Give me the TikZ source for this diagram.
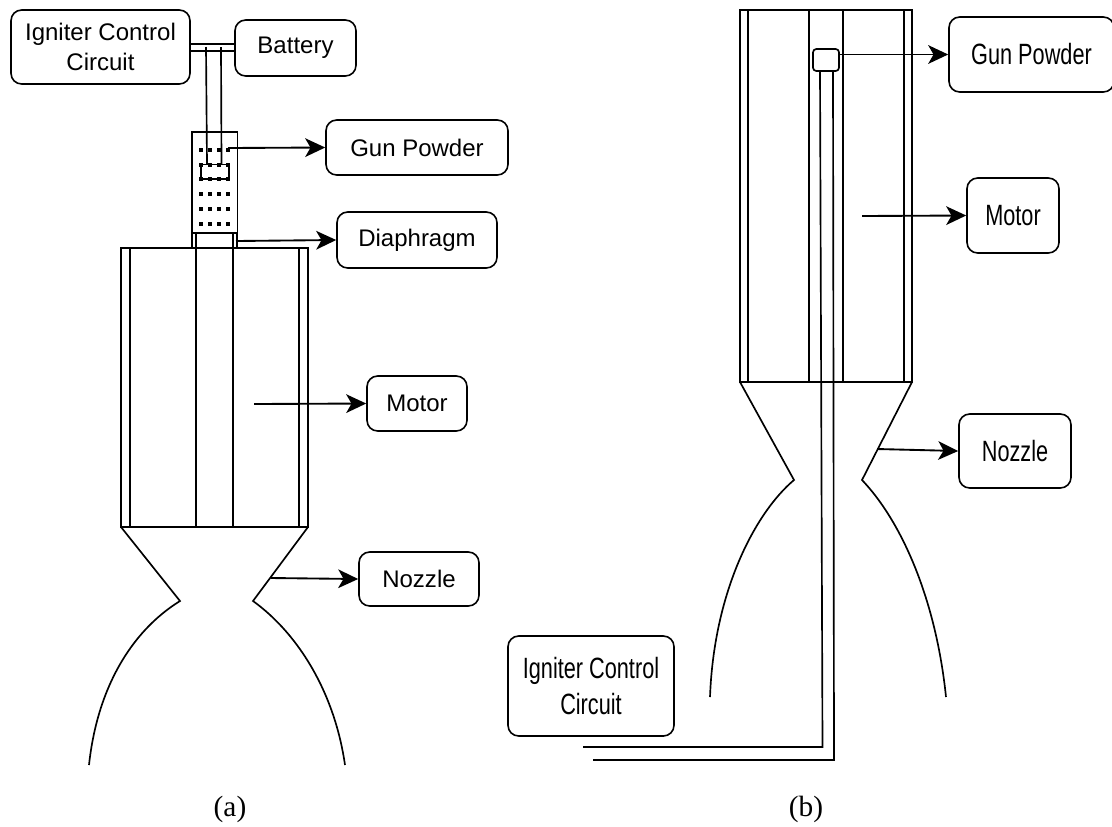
\documentclass[tikz,border=0pt]{standalone}
\usepackage{fontspec}
\setmainfont{Liberation Serif}
\newfontfamily\labelfont{Liberation Sans}
\usetikzlibrary{arrows.meta}
\tikzset{
  label box/.style={draw, line width=1.2pt, rounded corners=8pt, inner sep=0pt, align=center, font=\labelfont\fontsize{18}{22}\selectfont},
  tall box/.style={label box, font=\labelfont\fontsize{22}{27.5}\selectfont},
  wire line/.style={line width=1.25pt},
  body line/.style={line width=1.25pt},
  pointer line/.style={line width=1.4pt, -{Stealth[length=15pt, width=14pt, inset=4pt]}},
  caption text/.style={font=\fontsize{22}{26}\selectfont},
}
\newcommand{\narrowText}[1]{\scalebox{0.74}[1]{#1}}
\begin{document}
\begin{tikzpicture}[x=0.75pt, y=-0.75pt]
  \useasboundingbox (0,0) rectangle (1112,826);
  % left figure
  \node[label box, minimum width=134.25pt, minimum height=55.5pt] (igniterA) at (100.5,47) {Igniter Control\\Circuit};
  \node[label box, minimum width=90.75pt, minimum height=42pt] (batteryA) at (295.5,48) {Battery};
  \node[label box, minimum width=136.5pt, minimum height=41.25pt] (gunA) at (417,147.5) {Gun Powder};
  \node[label box, minimum width=120pt, minimum height=42pt] (diaphragmA) at (417,240) {Diaphragm};
  \node[label box, minimum width=75pt, minimum height=41.25pt] (motorA) at (417,403.5) {Motor};
  \node[label box, minimum width=90pt, minimum height=40.5pt] (nozzleA) at (419,579) {Nozzle};
  \draw[wire line] (190,44) -- (235,44) (190,51) -- (235,51);
  \draw[wire line] (206,47) -- (207,164) (221,47) -- (221.5,164);
  \draw[body line] (192,233) -- (192,132) -- (237.5,132) -- (237.5,233) -- cycle;
  \foreach \row in {150,164.5,179.3,194.3,209.3,224.3}
    \foreach \col in {201,210,219,228}
      \fill (\col,\row) ++(-2,-2) rectangle ++(4,4);
  \draw[body line] (201,164.5) rectangle (229,179.3);
  \draw[body line] (192,233) -- (192,248) (237,233) -- (237,248);
  \draw[body line] (121,527) -- (121,248) -- (308,248) -- (308,527) -- cycle;
  \draw[body line] (130,248) -- (130,527) (299,248) -- (299,527);
  \draw[body line] (196,233) -- (196,527) (233,233) -- (233,527);
  \draw[body line] (89,765) .. controls (97,690) and (130,632) .. (180,601) -- (121,527);
  \draw[body line] (345,765) .. controls (335,695) and (300,635) .. (253,601) -- (308,527);
  \coordinate (gunTailA) at (228,148);
  \coordinate (diaphragmTailA) at (236,241);
  \coordinate (motorTailA) at (254,404);
  \coordinate (nozzleTailA) at (271,578);
  \draw[pointer line] (gunTailA) -- (gunA.west);
  \draw[pointer line] (diaphragmTailA) -- (diaphragmA.west);
  \draw[pointer line] (motorTailA) -- (motorA.west);
  \draw[pointer line] (nozzleTailA) -- (nozzleA.west);
  \node[caption text] (captionA) at (230,809) {(a)};
  % right figure
  \draw[body line] (740,10) rectangle (912,382);
  \draw[body line] (748,10) -- (748,382) (904,10) -- (904,382);
  \draw[body line] (809,10) -- (809,382) (843,10) -- (843,382);
  \node[draw, line width=1.25pt, fill=white, rounded corners=2.5pt, minimum width=19.5pt, minimum height=16.5pt, inner sep=0pt] (gunCapB) at (826,60) {};
  \node[tall box, minimum width=123.75pt, minimum height=56.25pt] (gunB) at (1031.5,54.5) {\narrowText{Gun Powder}};
  \node[tall box, minimum width=69pt, minimum height=56.25pt] (motorB) at (1013,215.5) {\narrowText{Motor}};
  \node[tall box, minimum width=84pt, minimum height=55.5pt] (nozzleB) at (1015,451) {\narrowText{Nozzle}};
  \node[tall box, minimum width=124.5pt, minimum height=75pt] (igniterB) at (591,686) {\narrowText{Igniter Control}\\\narrowText{Circuit}};
  \draw[body line] (740,382) -- (794,480) .. controls (756,512) and (714,590) .. (710,697);
  \draw[body line] (912,382) -- (862,480) .. controls (902,522) and (936,600) .. (946,697);
  \coordinate (wireEndOneB) at (583,747);
  \coordinate (wireEndTwoB) at (593,760);
  \draw[wire line] (820,71) -- (822.5,747) -- (wireEndOneB);
  \draw[wire line] (833,71) -- (834,760) -- (wireEndTwoB);
  \coordinate (motorTailB) at (862,216);
  \coordinate (nozzleTailB) at (877,449);
  \draw[pointer line] (gunCapB.east |- gunB.west) -- (gunB.west);
  \draw[pointer line] (motorTailB) -- (motorB.west);
  \draw[pointer line] (nozzleTailB) -- (nozzleB.west);
  \node[caption text] (captionB) at (806,809) {(b)};
\end{tikzpicture}
\end{document}
